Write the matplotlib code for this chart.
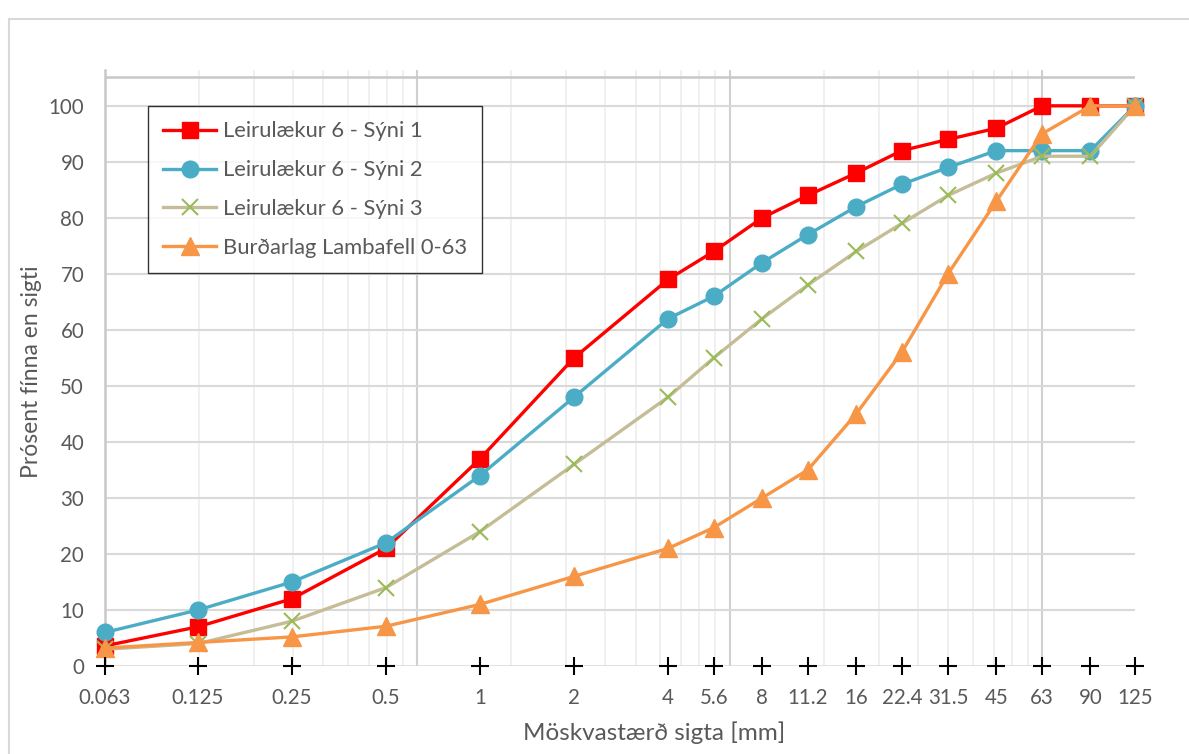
import numpy as np
import matplotlib
matplotlib.use("Agg")
import matplotlib.pyplot as plt

# sieve sizes [mm] and passing percentages
sizes = [0.063, 0.125, 0.25, 0.5, 1, 2, 4, 5.6, 8, 11.2, 16, 22.4, 31.5, 45, 63, 90, 125]
size_labels = ["0.063", "0.125", "0.25", "0.5", "1", "2", "4", "5.6", "8", "11.2",
               "16", "22.4", "31.5", "45", "63", "90", "125"]

syni1 = [3.6, 7, 12, 21, 37, 55, 69, 74, 80, 84, 88, 92, 94, 96, 100, 100, 100]
syni2 = [6, 10, 15, 22, 34, 48, 62, 66, 72, 77, 82, 86, 89, 92, 92, 92, 100]
syni3 = [3, 4, 8, 14, 24, 36, 48, 55, 62, 68, 74, 79, 84, 88, 91, 91, 100]
lambafell = [3.2, 4.2, 5.2, 7.1, 11, 16, 21, 24.7, 30, 35, 45, 56, 70, 83, 95, 100, 100]

names = ["Leirulækur 6 - Sýni 1", "Leirulækur 6 - Sýni 2",
         "Leirulækur 6 - Sýni 3", "Burðarlag Lambafell 0-63"]

plt.rcParams['font.family'] = ['Lato', 'DejaVu Sans']
txt = '#595959'

fig = plt.figure(figsize=(11.89, 7.54), dpi=100)
ax = fig.add_axes([0.0883, 0.1167, 0.8663, 0.7905])

# chart border
fig.patches.append(plt.Rectangle((9/1189, -0.01), 1.0, 0.997 - 9/754, transform=fig.transFigure,
                                 fill=False, edgecolor='#D9D9D9', linewidth=1.5))

ax.set_xscale('log')
xmin, xmax = 0.063, 125
ax.set_xlim(xmin, xmax)
ax.set_ylim(0, 106.4)

############################
# GRID
############################
for dec in range(0, 4):
    for k in range(1, 10):
        xv = 0.063 * k * 10**dec
        if xv <= xmin or xv >= xmax:
            continue
        if k == 1:
            ax.axvline(xv, color='#D0D0D0', lw=1.5, zorder=0)
        else:
            ax.axvline(xv, color='#EEEEEE', lw=1.2, zorder=0)
for yv in range(10, 101, 10):
    ax.axhline(yv, color='#D9D9D9', lw=1.5, zorder=0)
ax.axhline(105.2, color='#C8C8C8', lw=1.8, zorder=0)
ax.axhline(0, color='#D9D9D9', lw=1.8, zorder=0)

for s in ['top', 'right', 'bottom']:
    ax.spines[s].set_visible(False)
ax.spines['left'].set_color('#C8C8C8')
ax.spines['left'].set_linewidth(1.8)

############################
# SERIES
############################
ax.plot(sizes, syni1, color='#FF0000', lw=2.4, marker='s', ms=11.5,
        label=names[0], zorder=3, clip_on=False)
ax.plot(sizes, syni2, color='#4BACC6', lw=2.4, marker='o', ms=12,
        label=names[1], zorder=3, clip_on=False)
ax.plot(sizes, syni3, color='#C4BD97', lw=2.4, marker='x', ms=12, mew=1.5,
        mec='#9BBB59', label=names[2], zorder=3, clip_on=False)
ax.plot(sizes, lambafell, color='#F79646', lw=2.4, marker='^', ms=13,
        label=names[3], zorder=3, clip_on=False)

# sieve markers on the axis
ax.plot(sizes, [0]*len(sizes), '+', color='black', ms=13, mew=1.5,
        zorder=4, clip_on=False)

ax.minorticks_off()
ax.set_xticks(sizes)
ax.set_xticklabels(size_labels)
ax.set_yticks(range(0, 101, 10))
ax.tick_params(axis='x', length=0, pad=16, labelsize=14.8, labelcolor=txt)
ax.tick_params(axis='y', length=0, pad=15, labelsize=14.8, labelcolor=txt)

ax.set_xlabel('Möskvastærð sigta [mm]', fontsize=17.5, color=txt, va='center')
ax.xaxis.set_label_coords(0.533, -0.112)
ax.set_ylabel('Prósent fínna en sigti', fontsize=16.5, color=txt, va='center')
ax.yaxis.set_label_coords(-0.071, 0.493)

leg = ax.legend(loc='upper left', bbox_to_anchor=(0.0417, 0.9396), borderaxespad=0,
                fontsize=15.8, frameon=True, fancybox=False, handlelength=2.4,
                labelspacing=0.86, borderpad=0.7, handletextpad=0.3)
leg.get_frame().set_edgecolor('black')
leg.get_frame().set_linewidth(1.0)
for t in leg.get_texts():
    t.set_color(txt)

fig.savefig('out.png', dpi=100)
